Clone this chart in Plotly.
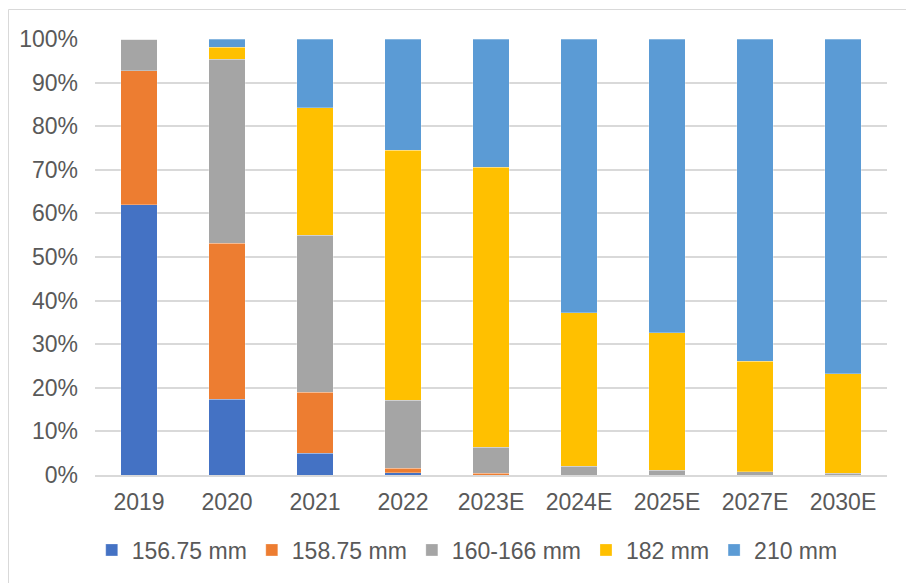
import plotly.graph_objects as go

years = ["2019", "2020", "2021", "2022", "2023E", "2024E", "2025E", "2027E", "2030E"]
s_156 = [62.0, 17.4, 5.0, 0.5, 0.0, 0.0, 0.0, 0.0, 0.0]
s_158 = [30.7, 35.8, 14.0, 1.0, 0.4, 0.0, 0.0, 0.0, 0.0]
s_160 = [7.3, 42.1, 36.0, 15.7, 6.0, 2.0, 1.1, 0.8, 0.4]
s_182 = [0.0, 2.8, 29.2, 57.3, 64.2, 35.2, 31.5, 25.3, 22.8]
s_210 = [0.0, 1.9, 15.8, 25.5, 29.4, 62.8, 67.4, 73.9, 76.8]

y_tickvals = [0, 10, 20, 30, 40, 50, 60, 70, 80, 90, 100]
y_ticktext = ["0%", "10%", "20%", "30%", "40%", "50%", "60%", "70%", "80%", "90%", "100%"]

series_names = ["156.75 mm", "158.75 mm", "160-166 mm", "182 mm", "210 mm"]
series_vals = [s_156, s_158, s_160, s_182, s_210]
colors = ["#4472C4", "#ED7D31", "#A5A5A5", "#FFC000", "#5B9BD5"]

FONT = "Liberation Sans"
TXT = "#595959"
FS = 23

fig = go.Figure()
for name, vals, c in zip(series_names, series_vals, colors):
    fig.add_trace(go.Bar(
        x=years, y=vals, name=name,
        marker=dict(color=c, line=dict(color="rgba(255,255,255,0.35)", width=0.8)),
    ))

fig.update_layout(
    barmode="stack",
    bargap=0.59,
    width=906, height=583,
    margin=dict(l=95, r=19, t=39, b=108),
    paper_bgcolor="white", plot_bgcolor="white",
    font=dict(family=FONT, color=TXT, size=FS),
    legend=dict(
        orientation="h", x=0.47, xanchor="center", y=-0.172, yanchor="middle",
        font=dict(family=FONT, size=FS, color=TXT),
        itemwidth=30, traceorder="normal",
    ),
    xaxis=dict(
        showline=True, linecolor="#D9D9D9", linewidth=1.5,
        ticks="", tickfont=dict(size=FS, color=TXT),
        ticklabelstandoff=6,
    ),
    yaxis=dict(
        range=[0, 100], tickmode="array", tickvals=y_tickvals, ticktext=y_ticktext,
        showgrid=True, gridcolor="#D9D9D9", gridwidth=1.5,
        zeroline=False, ticks="", tickfont=dict(size=FS, color=TXT),
        ticklabelstandoff=16,
    ),
    shapes=[dict(
        type="rect", xref="paper", yref="paper",
        x0=(8.5 - 95) / 792, x1=1.2, y0=-0.5, y1=(475 - 9.5) / 436,
        line=dict(color="#D9D9D9", width=1), fillcolor="rgba(0,0,0,0)", layer="below",
    )],
)

fig.write_html("out.html")
